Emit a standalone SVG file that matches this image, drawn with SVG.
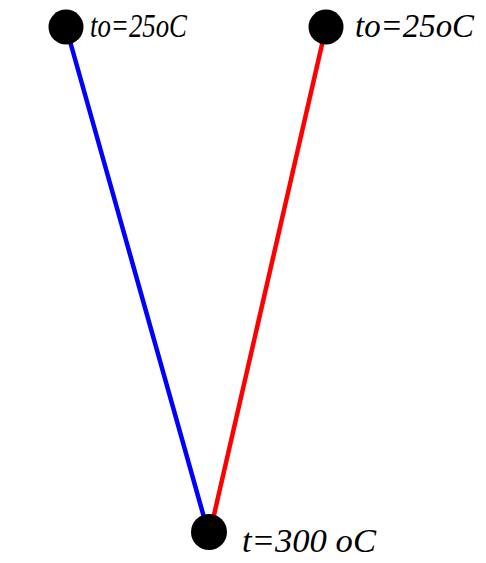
<svg xmlns="http://www.w3.org/2000/svg" width="486" height="563" viewBox="0 0 486 563">
<style>
.lbl{font-family:"Liberation Serif","Times New Roman",serif;font-style:italic;font-size:33px;fill:#000}
.dot{fill:#000}
.ln{stroke-width:4.5;fill:none}
</style>
<rect width="486" height="563" fill="#fff"/>
<g id="connectors">
<line class="ln" x1="66" y1="27" x2="207" y2="528" stroke="#0000ff"/>
<line class="ln" x1="326" y1="27" x2="211" y2="528" stroke="#ff0000"/>
</g>
<g id="node-left">
<circle class="dot" cx="66" cy="27" r="17.5"/>
<text class="lbl" x="90" y="37" textLength="97" lengthAdjust="spacingAndGlyphs">to=25oC</text>
</g>
<g id="node-right">
<circle class="dot" cx="326" cy="27" r="17.5"/>
<text class="lbl" x="355" y="37" textLength="119" lengthAdjust="spacingAndGlyphs">to=25oC</text>
</g>
<g id="node-bottom">
<circle class="dot" cx="209" cy="532" r="18"/>
<text class="lbl" x="242" y="552" textLength="134" lengthAdjust="spacingAndGlyphs">t=300 oC</text>
</g>
</svg>
